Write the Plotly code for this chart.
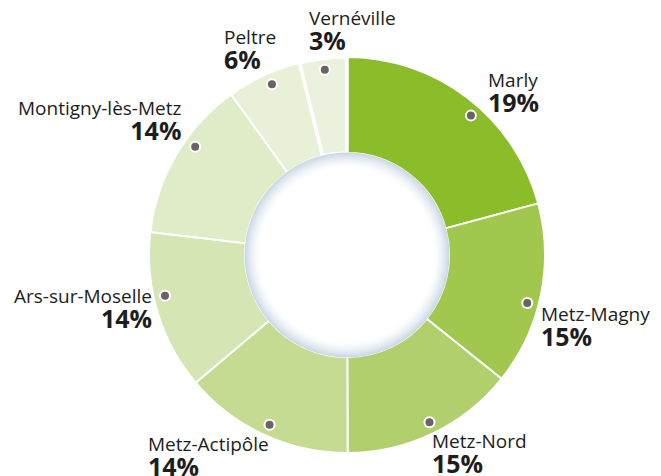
import math
import plotly.graph_objects as go

# ---------------- data ----------------
names = ["Marly", "Metz-Magny", "Metz-Nord", "Metz-Actipôle",
         "Ars-sur-Moselle", "Montigny-lès-Metz", "Peltre", "Vernéville"]
pct_labels = ["19%", "15%", "15%", "14%", "14%", "14%", "6%", "3%"]
# slice sizes as drawn in the picture (share of the ring, %)
shares = [20.8, 14.95, 14.2, 13.9, 13.0, 13.2, 6.1, 3.85]

# ---------------- style ----------------
colors = ["#8BBD2A", "#A2C74E", "#B2CF6E", "#C5DB92",
          "#D6E5B4", "#E0EBC7", "#E8F0D8", "#EAF1DC"]
line_w = [2, 2, 2, 2, 2, 2, 2, 3.5]
dot_shift = [4.2, 3.1, -0.5, -0.3, 4.1, 5.1, 1.1, 0.1]      # deg, dot placement tweak
label_dx = [16, 13, 2, -123, -12, -12, -49, -17]            # px from dot to label edge
label_dy = [-34, 13.5, 21, 21, 2.5, -36.5, -45.5, -49.5]    # px from dot to name cap centre
label_anchor = ["left", "left", "left", "left", "right", "right", "left", "left"]

OFF = 8                      # page body margin of the html page
W, H = 661 - OFF, 476 - OFF
CX, CY, R = 347 - OFF, 255 - OFF, 198
HOLE_PX = 102
DOT_R_PX = 186.5
BLOCK_SHIFT = 11             # px from name cap centre to two-line block middle
TEXT = "#1d1d1b"
FONT = "Open Sans"


def px2paper(dx, dy):
    """offset in px from pie centre (dy downward) -> paper coords"""
    return 0.5 + dx / (2 * R), 0.5 - dy / (2 * R)


fig = go.Figure()
fig.add_trace(go.Pie(
    values=shares, labels=names, sort=False, direction="clockwise", rotation=0,
    hole=HOLE_PX / R, textinfo="none", hoverinfo="label+percent",
    marker=dict(colors=colors, line=dict(color="white", width=line_w)),
    showlegend=False, domain=dict(x=[0, 1], y=[0, 1]),
))

shapes = []
# hole: white disc with soft bluish rim
edge = (204, 216, 229)
n = 16
for k in range(n):
    rp = HOLE_PX + 0.5 - k
    t = k / (n - 1)
    f = (1 - t) ** 1.5
    c = tuple(round(255 - (255 - e) * f) for e in edge)
    x0, y0 = px2paper(-rp, rp)
    x1, y1 = px2paper(rp, -rp)
    shapes.append(dict(type="circle", xref="paper", yref="paper", x0=x0, x1=x1, y0=y0, y1=y1,
                       fillcolor="rgb(%d,%d,%d)" % c, line=dict(width=0), layer="above"))

annotations = []
total = sum(shares)
cum = 0
for i, s in enumerate(shares):
    mid = (cum + s / 2) / total * 360 + dot_shift[i]
    cum += s
    a = math.radians(mid)
    dx, dy = DOT_R_PX * math.sin(a), -DOT_R_PX * math.cos(a)
    # dot: white ring + dark centre
    for rr, col in ((6, "white"), (4, "#6B6264")):
        x0, y0 = px2paper(dx - rr, dy + rr)
        x1, y1 = px2paper(dx + rr, dy - rr)
        shapes.append(dict(type="circle", xref="paper", yref="paper", x0=x0, x1=x1,
                           y0=y0, y1=y1, fillcolor=col, line=dict(width=0), layer="above"))
    lx, ly = px2paper(dx + label_dx[i], dy + label_dy[i] + BLOCK_SHIFT)
    annotations.append(dict(
        x=lx, y=ly, xref="paper", yref="paper",
        text=names[i] + "<br><b><span style='font-size:25px'>" + pct_labels[i] + "</span></b>",
        showarrow=False, xanchor=label_anchor[i], align=label_anchor[i],
        yanchor="middle", borderpad=0,
        font=dict(family=FONT, size=19, color=TEXT)))

fig.update_layout(
    width=W, height=H,
    margin=dict(l=CX - R, r=W - CX - R, t=CY - R, b=H - CY - R),
    paper_bgcolor="white", plot_bgcolor="rgba(0,0,0,0)",
    shapes=shapes, annotations=annotations,
    font=dict(family=FONT),
)

fig.write_html("out.html")
